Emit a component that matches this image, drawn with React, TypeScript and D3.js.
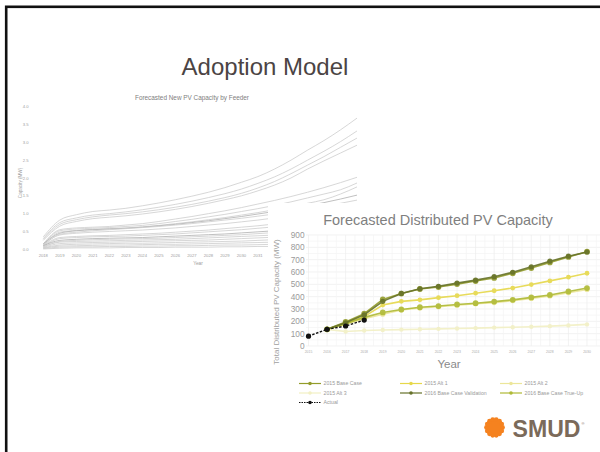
import React from 'react';
import * as d3 from 'd3';

// ---------- Slide text ----------
const slideTitle = 'Adoption Model';

// ---------- Left chart: Forecasted New PV Capacity by Feeder ----------
const feederTitle = 'Forecasted New PV Capacity by Feeder';
const feederYears = [2018, 2019, 2020, 2021, 2022, 2023, 2024, 2025, 2026, 2027, 2028, 2029, 2030, 2031, 2032, 2033, 2034, 2035, 2036, 2037];
const feederYTicks = [0, 0.5, 1.0, 1.5, 2.0, 2.5, 3.0, 3.5, 4.0];
const feederCapacity: number[][] = [
  [0.35, 0.82, 0.97, 1.06, 1.10, 1.15, 1.22, 1.30, 1.39, 1.49, 1.60, 1.73, 1.88, 2.04, 2.25, 2.50, 2.78, 3.05, 3.35, 3.68],
  [0.30, 0.75, 0.88, 0.96, 1.00, 1.05, 1.11, 1.18, 1.26, 1.35, 1.45, 1.56, 1.69, 1.85, 2.03, 2.25, 2.50, 2.75, 3.02, 3.32],
  [0.28, 0.70, 0.83, 0.91, 0.96, 1.00, 1.05, 1.11, 1.18, 1.26, 1.35, 1.45, 1.57, 1.72, 1.90, 2.12, 2.36, 2.60, 2.86, 3.12],
  [0.25, 0.65, 0.78, 0.86, 0.90, 0.94, 0.99, 1.05, 1.12, 1.20, 1.29, 1.39, 1.50, 1.64, 1.80, 2.00, 2.25, 2.48, 2.70, 2.92],
  [0.15, 0.55, 0.60, 0.62, 0.64, 0.68, 0.72, 0.78, 0.85, 0.92, 1.00, 1.08, 1.17, 1.27, 1.37, 1.48, 1.60, 1.73, 1.87, 2.02],
  [0.15, 0.52, 0.57, 0.59, 0.61, 0.64, 0.67, 0.72, 0.78, 0.84, 0.91, 0.98, 1.06, 1.14, 1.23, 1.33, 1.44, 1.55, 1.67, 1.86],
  [0.12, 0.48, 0.53, 0.56, 0.58, 0.60, 0.63, 0.67, 0.72, 0.77, 0.83, 0.89, 0.96, 1.03, 1.11, 1.20, 1.29, 1.39, 1.55, 1.75],
  [0.15, 0.45, 0.52, 0.55, 0.57, 0.59, 0.62, 0.66, 0.70, 0.75, 0.80, 0.86, 0.92, 0.99, 1.06, 1.14, 1.22, 1.31, 1.41, 1.52],
  [0.10, 0.42, 0.48, 0.52, 0.55, 0.58, 0.61, 0.64, 0.68, 0.72, 0.77, 0.82, 0.87, 0.93, 0.99, 1.06, 1.13, 1.21, 1.29, 1.38],
  [0.12, 0.40, 0.45, 0.48, 0.50, 0.52, 0.54, 0.57, 0.60, 0.64, 0.68, 0.72, 0.77, 0.82, 0.88, 0.94, 1.00, 1.07, 1.14, 1.22],
  [0.10, 0.33, 0.36, 0.38, 0.39, 0.41, 0.43, 0.45, 0.48, 0.51, 0.54, 0.58, 0.62, 0.66, 0.71, 0.76, 0.81, 0.87, 0.93, 1.00],
  [0.08, 0.30, 0.33, 0.35, 0.36, 0.37, 0.39, 0.41, 0.43, 0.46, 0.49, 0.52, 0.55, 0.59, 0.63, 0.67, 0.72, 0.77, 0.82, 0.88],
  [0.10, 0.25, 0.28, 0.30, 0.31, 0.32, 0.33, 0.35, 0.37, 0.39, 0.41, 0.43, 0.46, 0.49, 0.52, 0.55, 0.59, 0.63, 0.67, 0.72],
  [0.06, 0.22, 0.25, 0.27, 0.28, 0.29, 0.30, 0.31, 0.33, 0.35, 0.37, 0.39, 0.41, 0.44, 0.47, 0.50, 0.53, 0.56, 0.60, 0.64],
  [0.08, 0.20, 0.22, 0.23, 0.24, 0.25, 0.26, 0.27, 0.28, 0.30, 0.32, 0.34, 0.36, 0.38, 0.40, 0.42, 0.45, 0.48, 0.51, 0.54],
  [0.05, 0.16, 0.18, 0.19, 0.20, 0.21, 0.22, 0.23, 0.24, 0.25, 0.26, 0.28, 0.30, 0.32, 0.34, 0.36, 0.38, 0.40, 0.43, 0.46],
  [0.04, 0.12, 0.14, 0.15, 0.16, 0.17, 0.17, 0.18, 0.19, 0.20, 0.21, 0.22, 0.23, 0.25, 0.27, 0.28, 0.30, 0.32, 0.34, 0.36],
  [0.03, 0.09, 0.10, 0.11, 0.12, 0.12, 0.13, 0.14, 0.14, 0.15, 0.16, 0.17, 0.18, 0.19, 0.20, 0.21, 0.22, 0.24, 0.25, 0.27],
  [0.02, 0.06, 0.07, 0.07, 0.08, 0.08, 0.09, 0.09, 0.10, 0.10, 0.11, 0.12, 0.12, 0.13, 0.14, 0.15, 0.16, 0.17, 0.18, 0.19],
  [0.01, 0.03, 0.04, 0.04, 0.04, 0.05, 0.05, 0.05, 0.06, 0.06, 0.06, 0.07, 0.07, 0.08, 0.08, 0.09, 0.09, 0.10, 0.11, 0.11],
];

// ---------- Right chart: Forecasted Distributed PV Capacity ----------
const pvTitle = 'Forecasted Distributed PV Capacity';
const pvYears = [2015, 2016, 2017, 2018, 2019, 2020, 2021, 2022, 2023, 2024, 2025, 2026, 2027, 2028, 2029, 2030];
const pvYTicks = [0, 100, 200, 300, 400, 500, 600, 700, 800, 900];
const actualYears = [2015, 2016, 2017, 2018];
const actualMW = [80, 135, 162, 210];
const forecastYears = [2016, 2017, 2018, 2019, 2020, 2021, 2022, 2023, 2024, 2025, 2026, 2027, 2028, 2029, 2030];
const base2015 = [135, 195, 262, 378, 425, 462, 478, 502, 527, 552, 590, 632, 678, 722, 765];
const alt1_2015 = [135, 182, 238, 332, 362, 374, 392, 408, 428, 448, 470, 498, 528, 558, 590];
const alt2_2015 = [135, 176, 222, 258, 292, 308, 318, 330, 342, 352, 368, 386, 406, 432, 458];
const alt3_2015 = [135, 118, 126, 130, 133, 136, 139, 142, 145, 149, 152, 156, 161, 167, 175];
const validation2016 = [135, 188, 252, 362, 426, 464, 484, 510, 534, 562, 598, 642, 688, 728, 762];
const trueUp2016 = [135, 180, 232, 272, 296, 314, 324, 337, 347, 360, 374, 394, 414, 442, 470];

const legendItems = [
  { name: '2015 Base Case', color: '#939c2a', dashed: false },
  { name: '2015 Alt 1', color: '#e6d84a', dashed: false },
  { name: '2015 Alt 2', color: '#ece69a', dashed: false },
  { name: '2015 Alt 3', color: '#f2f0c4', dashed: false },
  { name: '2016 Base Case Validation', color: '#66722a', dashed: false },
  { name: '2016 Base Case True-Up', color: '#afba36', dashed: false },
  { name: 'Actual', color: '#111111', dashed: true },
];

const FONT = '"Liberation Sans", Arial, sans-serif';

function SmudLogo({ x, y }: { x: number; y: number }) {
  const bumps = d3.range(14).map((i) => (i / 14) * Math.PI * 2);
  return (
    <g>
      <circle cx={x} cy={y} r={8.8} fill="#f5821f" />
      {bumps.map((a, i) => (
        <circle key={i} cx={x + Math.cos(a) * 8} cy={y + Math.sin(a) * 8} r={2.4} fill="#f5821f" />
      ))}
      <text x={x + 18} y={y + 9} fontFamily={FONT} fontWeight={900} fontSize={23} fill="#7b6a5a" textLength={68} lengthAdjust="spacingAndGlyphs">SMUD</text>
      <text x={x + 87} y={y - 3} fontFamily={FONT} fontSize={4} fill="#7b6a5a">®</text>
    </g>
  );
}

export default function App() {
  // Left chart scales
  const xL = d3.scaleLinear().domain([2018, 2037]).range([43.3, 357]);
  const yL = d3.scaleLinear().domain([0, 4]).range([249.3, 106.7]);
  const lineL = d3
    .line<number>()
    .x((_, i) => xL(feederYears[i]))
    .y((d) => yL(d))
    .curve(d3.curveMonotoneX);

  // Right chart scales
  const xR = d3.scaleLinear().domain([2015, 2030]).range([308.5, 587]);
  const yR = d3.scaleLinear().domain([0, 900]).range([346, 235]);
  const lineR = (xs: number[], ys: number[]) =>
    d3
      .line<number>()
      .x((_, i) => xR(xs[i]))
      .y((d) => yR(d))(ys) as string;

  const series = [
    { vals: alt3_2015, color: legendItems[3].color, r: 2.2 },
    { vals: alt2_2015, color: legendItems[2].color, r: 2.6 },
    { vals: alt1_2015, color: legendItems[1].color, r: 2.4 },
    { vals: trueUp2016, color: legendItems[5].color, r: 2.9 },
    { vals: base2015, color: legendItems[0].color, r: 2.9 },
    { vals: validation2016, color: legendItems[4].color, r: 2.6 },
  ];

  const hGrid = d3.range(0, 901, 50);
  const vGrid = d3.range(2015, 2030.6, 0.5);

  const legendPos = [
    { x: 299, y: 383.5 },
    { x: 400, y: 383.5 },
    { x: 500, y: 383.5 },
    { x: 299, y: 393 },
    { x: 400, y: 393 },
    { x: 500, y: 393 },
    { x: 299, y: 402.5 },
  ];

  // only the year labels not covered by the overlapping chart
  const visibleFeederYears = feederYears.filter((yr) => xL(yr) < 262);

  return (
    <svg width={600} height={452} style={{ position: 'absolute', left: 0, top: 0, background: '#fff' }}>
      <rect x={0} y={0} width={600} height={452} fill="#fff" />
      {/* slide frame */}
      <rect x={6.2} y={6.8} width={640} height={500} fill="none" stroke="#111" strokeWidth={2.6} />

      <text x={265} y={75} textAnchor="middle" fontFamily={FONT} fontSize={24} fill="#4b4444">
        {slideTitle}
      </text>

      {/* ----- Left chart ----- */}
      <g>
        <text x={192} y={99.5} textAnchor="middle" fontFamily={FONT} fontSize={6.4} fill="#808080">{feederTitle}</text>
        {feederYTicks.map((t) => (
          <text key={t} x={28.5} y={yL(t) + 1.5} textAnchor="end" fontFamily={FONT} fontSize={4.2} fill="#a0a0a0">
            {t.toFixed(1)}
          </text>
        ))}
        {visibleFeederYears.map((yr) => (
          <text key={yr} x={xL(yr)} y={256.5} textAnchor="middle" fontFamily={FONT} fontSize={4.2} fill="#a0a0a0">{yr}</text>
        ))}
        <text transform={`translate(21.5,183) rotate(-90)`} textAnchor="middle" fontFamily={FONT} fontSize={4.6} fill="#a0a0a0">Capacity (MW)</text>
        <text x={198} y={265} textAnchor="middle" fontFamily={FONT} fontSize={4.8} fill="#a0a0a0">Year</text>
        {feederCapacity.map((vals, i) => (
          <path key={i} d={lineL(vals) as string} fill="none" stroke={i === 7 || i === 12 ? '#b0b0b0' : '#cdcdcd'} strokeWidth={0.8} />
        ))}
      </g>

      {/* ----- Right chart ----- */}
      <g>
        <rect x={268} y={203} width={340} height={260} fill="#fff" />
        <text x={438} y={225} textAnchor="middle" fontFamily={FONT} fontSize={14.5} fill="#7f7f7f">{pvTitle}</text>
        {hGrid.map((v) => (
          <line key={'h' + v} x1={306} x2={600} y1={yR(v)} y2={yR(v)} stroke={v % 100 === 0 ? '#ececec' : '#f4f4f4'} strokeWidth={0.7} />
        ))}
        {vGrid.map((v) => (
          <line key={'v' + v} x1={xR(v)} x2={xR(v)} y1={yR(900)} y2={yR(0)} stroke={Number.isInteger(v) ? '#ececec' : '#f4f4f4'} strokeWidth={0.7} />
        ))}
        {pvYTicks.map((t) => (
          <text key={t} x={304.5} y={yR(t) + 3} textAnchor="end" fontFamily={FONT} fontSize={8.3} fill="#9a9a9a">{t}</text>
        ))}
        {pvYears.map((yr) => (
          <text key={yr} x={xR(yr)} y={352.5} textAnchor="middle" fontFamily={FONT} fontSize={3.4} fill="#aaaaaa">{yr}</text>
        ))}
        <text transform={`translate(279,302) rotate(-90)`} textAnchor="middle" fontFamily={FONT} fontSize={8} fill="#a0a0a0">Total Distributed PV Capacity (MW)</text>
        <text x={449} y={368} textAnchor="middle" fontFamily={FONT} fontSize={11.5} fill="#8a8a8a">Year</text>

        {series.map((s, i) => (
          <g key={i} opacity={0.9}>
            <path d={lineR(forecastYears, s.vals)} fill="none" stroke={s.color} strokeWidth={1.6} />
            {s.vals.map((v, j) => (
              <circle key={j} cx={xR(forecastYears[j])} cy={yR(v)} r={s.r} fill={s.color} />
            ))}
          </g>
        ))}
        <path d={lineR(actualYears, actualMW)} fill="none" stroke="#111" strokeWidth={1.4} strokeDasharray="2.5,1.5" />
        {actualMW.map((v, j) => (
          <circle key={j} cx={xR(actualYears[j])} cy={yR(v)} r={2.6} fill="#111" />
        ))}

        {/* legend */}
        {legendItems.map((it, i) => {
          const p = legendPos[i];
          return (
            <g key={it.name}>
              <line x1={p.x} x2={p.x + 22} y1={p.y} y2={p.y} stroke={it.color} strokeWidth={1.2} strokeDasharray={it.dashed ? '1.5,1' : undefined} />
              <circle cx={p.x + 11} cy={p.y} r={1.8} fill={it.color} />
              <text x={p.x + 24.5} y={p.y + 1.8} fontFamily={FONT} fontSize={5.2} fill="#9a9a9a">{it.name}</text>
            </g>
          );
        })}

        <SmudLogo x={494.5} y={427.5} />
      </g>
    </svg>
  );
}
